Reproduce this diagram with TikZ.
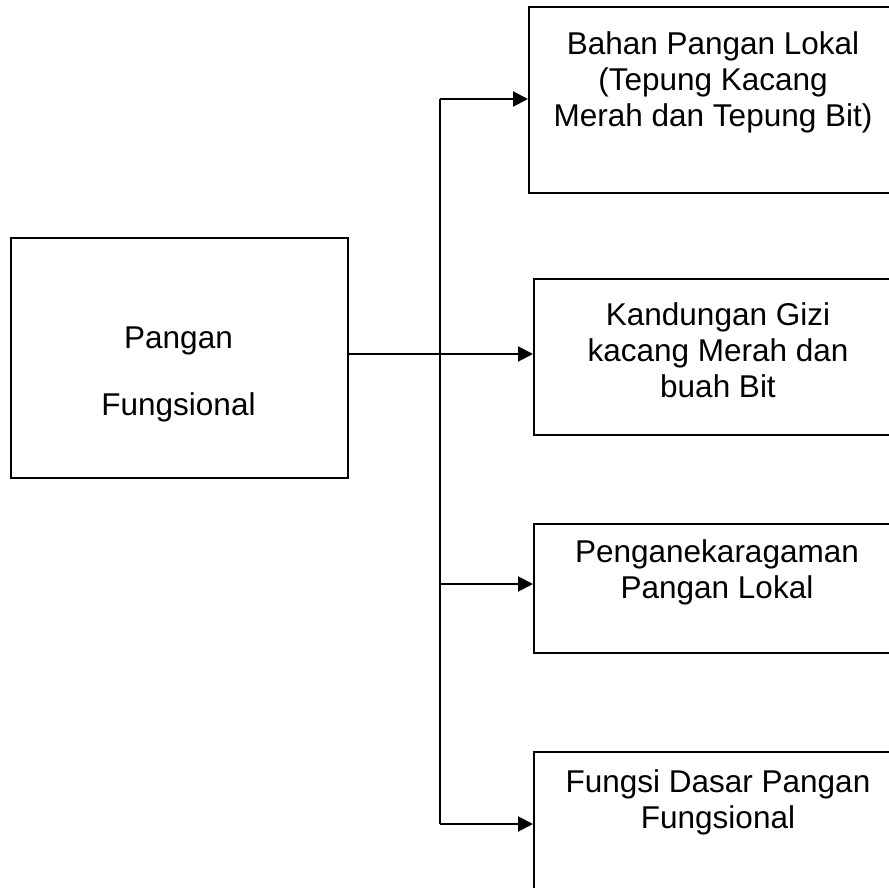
\documentclass[tikz,border=0pt]{standalone}
\usepackage{fontspec}
\setmainfont{Liberation Sans}
\usetikzlibrary{arrows.meta}
\begin{document}
\begin{tikzpicture}[x=1pt,y=-1pt,
  box/.style={draw,line width=1.8pt,rectangle,inner sep=0pt,anchor=north west},
  lbl/.style={anchor=north,inner sep=0pt,align=center,font=\fontsize{31.5}{36}\selectfont},
  conn/.style={line width=2pt},
  arr/.style={conn,-{Triangle[length=15pt,width=15pt]}}]
\path[use as bounding box,clip] (0,0) rectangle (889,888);
\fill[white] (0,0) rectangle (889,888);
% boxes
\node[box,minimum width=337pt,minimum height=240pt] (L) at (10,237) {};
\node[box,minimum width=372pt,minimum height=186pt] (B1) at (528,6) {};
\node[box,minimum width=372pt,minimum height=156pt] (B2) at (533,278) {};
\node[box,minimum width=372pt,minimum height=129pt] (B3) at (533,523) {};
\node[box,minimum width=372pt,minimum height=160pt] (B4) at (533,751) {};
% labels
\node[lbl,font=\fontsize{31.5}{67}\selectfont] (tL) at (178.5,327) {Pangan\\Fungsional};
\node[lbl] (t1) at (713,31) {Bahan Pangan Lokal\\(Tepung Kacang\\Merah dan Tepung Bit)};
\node[lbl] (t2) at (718,302) {Kandungan Gizi\\kacang Merah dan\\buah Bit};
\node[lbl] (t3) at (717,539) {Penganekaragaman\\Pangan Lokal};
\node[lbl] (t4) at (718,769) {Fungsi Dasar Pangan\\Fungsional};
% connectors
\coordinate (j1) at (440,99);
\coordinate (j2) at (440,354);
\coordinate (j3) at (440,584);
\coordinate (j4) at (440,824);
\draw[conn] (j1) -- (j4);
\draw[arr] (L.east |- j2) -- (B2.west |- j2);
\draw[arr] (j1) -- (B1.west |- j1);
\draw[arr] (j3) -- (B3.west |- j3);
\draw[arr] (j4) -- (B4.west |- j4);
\end{tikzpicture}
\end{document}
